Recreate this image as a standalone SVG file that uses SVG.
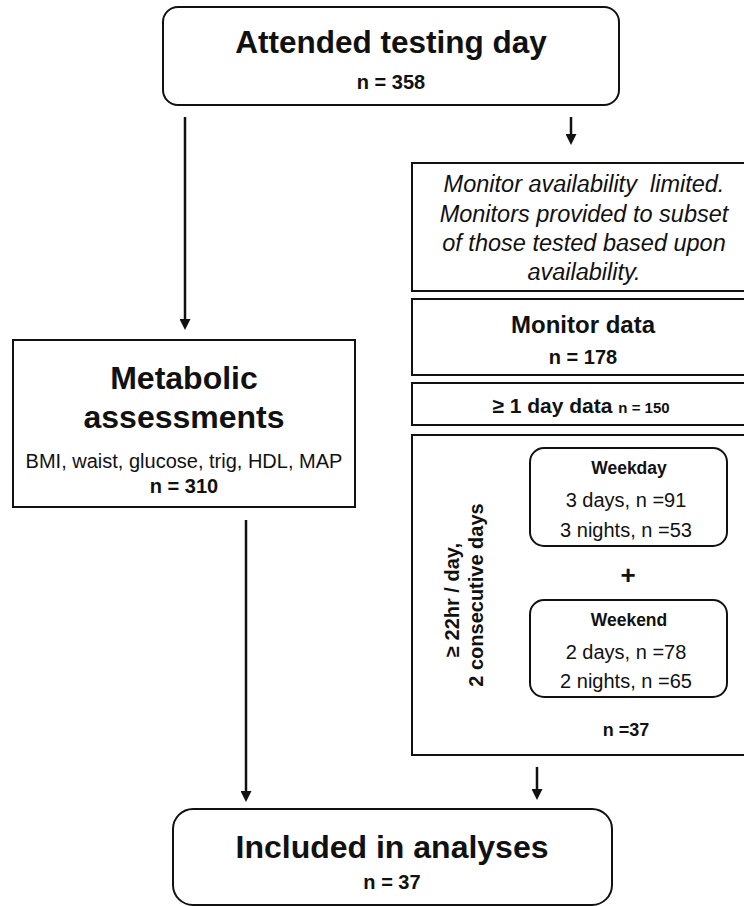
<svg xmlns="http://www.w3.org/2000/svg" width="744" height="906" viewBox="0 0 744 906">
<style>
.box{fill:#fff;stroke:#111;stroke-width:2}
.t{font-family:"Liberation Sans",Arial,sans-serif;fill:#111;text-anchor:middle}
.b{font-weight:bold}
.i{font-style:italic}
.con{stroke:#111;stroke-width:2.5;fill:none;marker-end:url(#ah)}
</style>
<defs>
<marker id="ah" markerUnits="userSpaceOnUse" markerWidth="11" markerHeight="11" refX="7" refY="5.5" orient="auto">
<path d="M0,0 L11,5.5 L0,11 z" fill="#111"/>
</marker>
</defs>
<rect width="744" height="906" fill="#fff"/>

<g id="attended">
<rect class="box" x="163" y="7" width="456" height="98" rx="15"/>
<text class="t b" x="391" y="53" font-size="31.5">Attended testing day</text>
<text class="t b" x="391" y="89" font-size="20">n = 358</text>
</g>

<g id="availability">
<rect class="box" x="412" y="163" width="340" height="128"/>
<text class="t i" x="584" y="192" font-size="23.5" xml:space="preserve" style="white-space:pre">Monitor availability  limited.</text>
<text class="t i" x="584" y="222" font-size="23.5">Monitors provided to subset</text>
<text class="t i" x="584" y="251" font-size="23.5">of those tested based upon</text>
<text class="t i" x="584" y="280" font-size="23.5">availability.</text>
</g>

<g id="monitor-data">
<rect class="box" x="412" y="299" width="340" height="76"/>
<text class="t b" x="583" y="333" font-size="24">Monitor data</text>
<text class="t b" x="583" y="364" font-size="20">n = 178</text>
</g>

<g id="one-day">
<rect class="box" x="412" y="383" width="340" height="42"/>
<text class="t b" x="581" y="413" font-size="21">≥ 1 day data <tspan font-size="15">n = 150</tspan></text>
</g>

<g id="consecutive">
<rect class="box" x="412" y="435" width="340" height="320"/>
<text class="t b" font-size="20" transform="translate(459,600) rotate(-90)">≥ 22hr / day,</text>
<text class="t b" font-size="20" transform="translate(483,595) rotate(-90)">2 consecutive days</text>
<text class="t b" x="628" y="584" font-size="26">+</text>
<text class="t b" x="626" y="736" font-size="18">n =37</text>
</g>

<g id="weekday">
<rect class="box" x="530" y="448" width="197" height="98" rx="14"/>
<text class="t b" x="629" y="474" font-size="17.5">Weekday</text>
<text class="t" x="626" y="507" font-size="20">3 days, n =91</text>
<text class="t" x="626" y="537" font-size="20">3 nights, n =53</text>
</g>

<g id="weekend">
<rect class="box" x="530" y="600" width="197" height="97" rx="14"/>
<text class="t b" x="629" y="626" font-size="17.5">Weekend</text>
<text class="t" x="626" y="659" font-size="20">2 days, n =78</text>
<text class="t" x="626" y="688" font-size="20">2 nights, n =65</text>
</g>

<g id="metabolic">
<rect class="box" x="13" y="340" width="342" height="167"/>
<text class="t b" x="184" y="389" font-size="32">Metabolic</text>
<text class="t b" x="184" y="428" font-size="32">assessments</text>
<text class="t" x="184" y="468" font-size="20">BMI, waist, glucose, trig, HDL, MAP</text>
<text class="t b" x="184" y="493" font-size="20">n = 310</text>
</g>

<g id="included">
<rect class="box" x="173" y="809" width="439" height="96" rx="20"/>
<text class="t b" x="392" y="858" font-size="32">Included in analyses</text>
<text class="t b" x="392" y="889" font-size="20">n = 37</text>
</g>

<g id="connectors">
<line class="con" x1="185" y1="117" x2="185" y2="326"/>
<line class="con" x1="571" y1="117" x2="571" y2="141"/>
<line class="con" x1="246" y1="520" x2="246" y2="798"/>
<line class="con" x1="537" y1="767" x2="537" y2="796"/>
</g>
</svg>
